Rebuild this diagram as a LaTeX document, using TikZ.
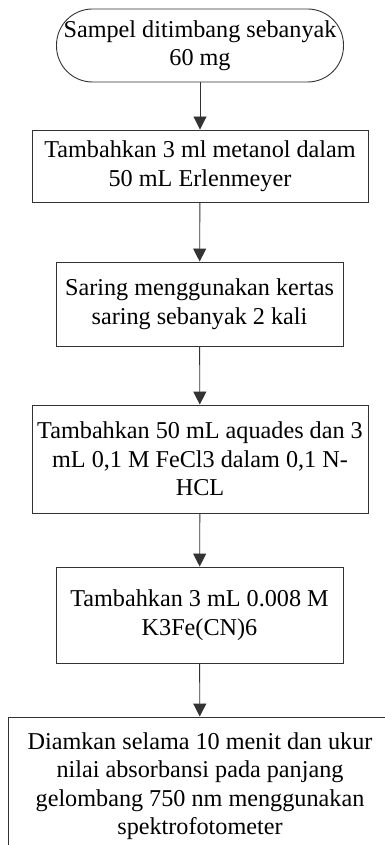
\documentclass[tikz,border=0pt]{standalone}
\usepackage{fontspec}
\setmainfont{Liberation Serif}
\usetikzlibrary{arrows.meta}
\begin{document}
\begin{tikzpicture}[x=1pt,y=-1pt,
  every node/.style={font=\fontsize{24.2}{28.5}\selectfont, align=center, inner sep=0pt},
  stepbox/.style={draw=black!80, line width=0.9pt, minimum width=#1},
  flow/.style={draw=black!80, line width=0.9pt, -{Triangle[width=13pt,length=13pt]}}]
  \useasboundingbox (0,0) rectangle (384,845);
  % start terminal
  \node[stepbox=287pt, minimum height=73pt, rounded corners=36pt] (t1) at (200,45.5)
    {Sampel ditimbang sebanyak\\60 mg};
  % process steps
  \node[stepbox=336pt, minimum height=72pt] (b2) at (200,166)
    {Tambahkan 3 ml metanol dalam\\50 mL Erlenmeyer};
  \node[stepbox=287pt, minimum height=84pt] (b3) at (199.5,304)
    {Saring menggunakan kertas\\saring sebanyak 2 kali};
  \node[stepbox=336pt, minimum height=108pt] (b4) at (200,459)
    {Tambahkan 50 mL aquades dan 3\\mL 0,1 M FeCl3 dalam 0,1 N-\\HCL};
  \node[stepbox=287pt, minimum height=96pt] (b5) at (199.5,615)
    {Tambahkan 3 mL 0.008 M\\K3Fe(CN)6};
  \node[stepbox=384pt, minimum height=138pt] (b6) at (200,786)
    {Diamkan selama 10 menit dan ukur\\nilai absorbansi pada panjang\\gelombang 750 nm menggunakan\\spektrofotometer};
  % connectors
  \draw[flow] (t1) -- (b2);
  \draw[flow] (b2) -- (b3);
  \draw[flow] (b3) -- (b4);
  \draw[flow] (b4) -- (b5);
  \draw[flow] (b5) -- (b6);
\end{tikzpicture}
\end{document}
